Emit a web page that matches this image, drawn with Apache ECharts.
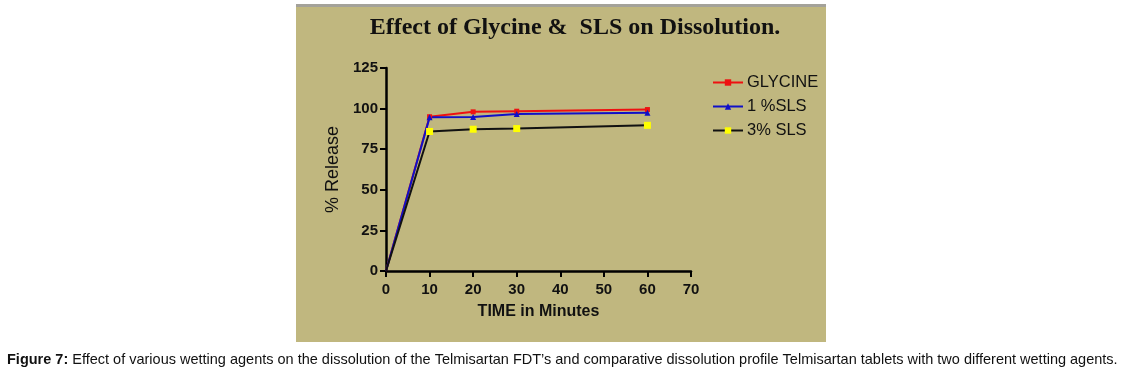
<!DOCTYPE html>
<html>
<head>
<meta charset="utf-8">
<script src="https://cdn.jsdelivr.net/npm/echarts@6/dist/echarts.min.js"></script>
<style>
  html, body { margin: 0; padding: 0; background: #fff; }
  #main { width: 1121px; height: 375px; }
</style>
</head>
<body>
<div id="main"></div>
<script>
// time points (minutes)
var times = [0, 10, 20, 30, 60]
// % release for each formulation
var glycine = [0, 95, 98, 98.4, 99.4]
var sls1 = [0, 94.6, 94.8, 96.6, 97.4]
var sls3 = [0, 85.9, 87.3, 87.7, 89.7]

// no marker is drawn at the origin in the figure
function pairs (ys) {
  return times.map(function (t, i) {
    return t === 0 ? { value: [t, ys[i]], symbol: 'none' } : [t, ys[i]]
  })
}

var chart = echarts.init(document.getElementById('main'))
var option = {
  backgroundColor: '#fff',
  animation: false,
  graphic: [
    // tan panel behind the plot
    { type: 'rect', z: -10, shape: { x: 296, y: 4, width: 530, height: 338 }, style: { fill: '#c0b77f' } },
    { type: 'rect', z: -9, shape: { x: 296, y: 4, width: 530, height: 3 }, style: { fill: '#a4a29a' } },
    {
      type: 'text', left: 7, top: 352,
      style: {
        rich: {
          b: { fontFamily: 'Liberation Sans', fontWeight: 'bold', fontSize: 14.5, fill: '#111' },
          n: { fontFamily: 'Liberation Sans', fontSize: 14.5, fill: '#111' }
        },
        text: '{b|Figure 7:}{n| Effect of various wetting agents on the dissolution of the Telmisartan FDT\u2019s and comparative dissolution profile Telmisartan tablets with two different wetting agents.}'
      }
    }
  ],
  title: {
    text: 'Effect of Glycine &  SLS on Dissolution.',
    left: 570,
    top: 11,
    textAlign: 'center',
    textStyle: { fontFamily: 'Liberation Serif', fontWeight: 'bold', fontSize: 24, color: '#111' }
  },
  legend: {
    orient: 'vertical',
    left: 707,
    top: 69,
    itemWidth: 30,
    itemHeight: 8,
    itemGap: 7,
    textStyle: { fontFamily: 'Liberation Sans', fontSize: 16.5, color: '#111', padding: [0, 0, 0, -1] },
    data: ['GLYCINE', '1 %SLS', '3% SLS']
  },
  grid: { left: 386, top: 68, right: 430, bottom: 104 },
  xAxis: {
    type: 'value',
    min: 0,
    max: 70,
    interval: 10,
    name: 'TIME in Minutes',
    nameLocation: 'middle',
    nameGap: 33,
    nameTextStyle: { fontFamily: 'Liberation Sans', fontWeight: 'bold', fontSize: 16, color: '#111' },
    axisLine: { lineStyle: { color: '#000', width: 2.5 } },
    axisTick: { lineStyle: { color: '#000', width: 2 }, length: 6 },
    axisLabel: { fontFamily: 'Liberation Sans', fontWeight: 'bold', fontSize: 15, color: '#111', margin: 11 },
    splitLine: { show: false }
  },
  yAxis: {
    type: 'value',
    min: 0,
    max: 125,
    interval: 25,
    name: '% Release',
    nameLocation: 'middle',
    nameGap: 44,
    nameTextStyle: { fontFamily: 'Liberation Sans', fontSize: 18, color: '#111' },
    axisLine: { show: true, lineStyle: { color: '#000', width: 2.5 } },
    axisTick: { show: true, lineStyle: { color: '#000', width: 2 }, length: 6 },
    axisLabel: { fontFamily: 'Liberation Sans', fontWeight: 'bold', fontSize: 15, color: '#111', margin: 8 },
    splitLine: { show: false }
  },
  series: [
    {
      name: 'GLYCINE', type: 'line', data: pairs(glycine),
      symbol: 'rect', symbolSize: 5, showAllSymbol: true,
      lineStyle: { color: '#ee1111', width: 2 },
      itemStyle: { color: '#ee1111', borderWidth: 0 }
    },
    {
      name: '1 %SLS', type: 'line', data: pairs(sls1),
      symbol: 'triangle', symbolSize: 6,
      lineStyle: { color: '#1010c8', width: 2 },
      itemStyle: { color: '#1010c8', borderWidth: 0 }
    },
    {
      name: '3% SLS', type: 'line', data: pairs(sls3),
      symbol: 'rect', symbolSize: 7,
      lineStyle: { color: '#111', width: 2 },
      itemStyle: { color: '#ffff00', borderWidth: 0 }
    }
  ]
}
chart.setOption(option)
</script>
</body>
</html>
